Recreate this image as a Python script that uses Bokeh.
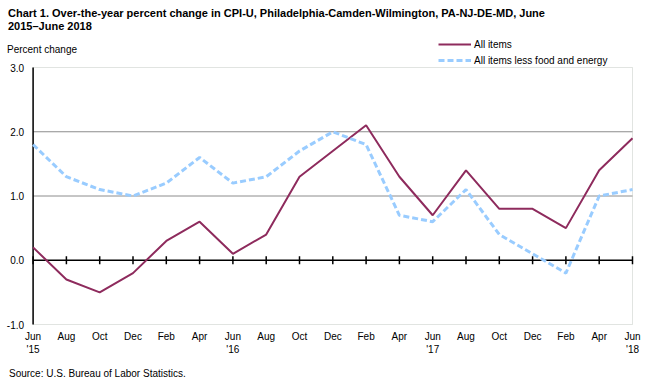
from bokeh.plotting import figure
from bokeh.models import (Range1d, Label, Legend, LegendItem, ColumnDataSource, BoxAnnotation)
from bokeh.core.properties import value
from bokeh.embed import file_html
from bokeh.resources import INLINE

# ---- data (bimonthly, over-the-year percent change) ----
periods = ["Jun 2015", "Aug 2015", "Oct 2015", "Dec 2015", "Feb 2016", "Apr 2016",
           "Jun 2016", "Aug 2016", "Oct 2016", "Dec 2016", "Feb 2017", "Apr 2017",
           "Jun 2017", "Aug 2017", "Oct 2017", "Dec 2017", "Feb 2018", "Apr 2018",
           "Jun 2018"]
month_index = [0, 2, 4, 6, 8, 10, 12, 14, 16, 18, 20, 22, 24, 26, 28, 30, 32, 34, 36]
all_items = [0.2, -0.3, -0.5, -0.2, 0.3, 0.6, 0.1, 0.4, 1.3, 1.7, 2.1, 1.3,
             0.7, 1.4, 0.8, 0.8, 0.5, 1.4, 1.9]
core = [1.8, 1.3, 1.1, 1.0, 1.2, 1.6, 1.2, 1.3, 1.7, 2.0, 1.8, 0.7,
        0.6, 1.1, 0.4, 0.1, -0.2, 1.0, 1.1]
tick_labels = ["Jun\n'15", "Aug", "Oct", "Dec", "Feb", "Apr",
               "Jun\n'16", "Aug", "Oct", "Dec", "Feb", "Apr",
               "Jun\n'17", "Aug", "Oct", "Dec", "Feb", "Apr", "Jun\n'18"]
y_ticks = [-1.0, 0.0, 1.0, 2.0, 3.0]
grid_values = [1.0, 2.0]
x_min, x_max = 0, 36
y_min, y_max = -1.0, 3.0

# ---- layout (canvas pixels) ----
W, H = 648, 380
PL, PR, PT, PB = 32.6, 632.0, 67.0, 324.0   # plot area edges
sx = (PR - PL) / (x_max - x_min)
sy = (PB - PT) / (y_max - y_min)
xr = Range1d(x_min - PL / sx, x_max + (W - PR) / sx)
yr = Range1d(y_min - (H - PB) / sy, y_max + PT / sy)

FONT = "Liberation Sans"
SMALL = "10px"
AXIS_GREY = "#9aa59a"

src = ColumnDataSource(dict(x=month_index, all_items=all_items, core=core, period=periods))

p = figure(width=W, height=H, output_backend="svg", toolbar_location=None,
           x_range=xr, y_range=yr, min_border=0, x_axis_type=None, y_axis_type=None)
p.title.visible = False
p.background_fill_color = "white"
p.border_fill_color = "white"
p.outline_line_color = None
p.xgrid.visible = False
p.ygrid.visible = False

# plot-area border
p.add_layout(BoxAnnotation(left=x_min, right=x_max, bottom=y_min, top=y_max, fill_color=None,
                           line_color=AXIS_GREY, line_width=1, level="underlay"))

# horizontal grid lines
n = len(grid_values)
p.segment(x0=[x_min] * n, x1=[x_max] * n, y0=grid_values, y1=grid_values,
          line_color="#8c8c8c", line_width=1)

# left axis line + tick labels
p.segment(x0=[x_min], x1=[x_min], y0=[y_min], y1=[y_max], line_color="black", line_width=1.5)
p.text(x=[x_min] * len(y_ticks), y=y_ticks, text=[f"{v:.1f}" for v in y_ticks],
       x_offset=-9, text_align="right", text_baseline="middle",
       text_font=value(FONT), text_font_size=SMALL, text_color="black")

# zero line with tick marks
p.segment(x0=[x_min], x1=[x_max], y0=[0], y1=[0], line_color="black", line_width=1.5)
m = len(month_index)
p.segment(x0=month_index, x1=month_index, y0=[-4 / sy] * m, y1=[4 / sy] * m,
          line_color="black", line_width=1.5)

# x tick labels (below the plot area)
p.text(x=month_index, y=[y_min] * m, text=tick_labels, y_offset=6,
       text_align="center", text_baseline="top", text_line_height=1.25,
       text_font=value(FONT), text_font_size=SMALL, text_color="black")

# series
r_all = p.line("x", "all_items", source=src, line_color="#8e2b5d", line_width=2)
r_core = p.line("x", "core", source=src, line_color="#99ccff", line_width=3,
                line_dash="6 3")

legend = Legend(items=[LegendItem(label="All items", renderers=[r_all]),
                       LegendItem(label="All items less food and energy", renderers=[r_core])],
                location=(438, H - PT), orientation="vertical")
legend.border_line_color = None
legend.background_fill_alpha = 0
legend.padding = 0
legend.margin = 0
legend.spacing = 2
legend.glyph_width = 33
legend.glyph_height = 14
legend.label_height = 14
legend.label_standoff = 3
legend.label_text_font = FONT
legend.label_text_font_size = SMALL
legend.label_text_color = "black"
p.add_layout(legend, "center")

# other texts (screen px from the canvas bottom-left)
def lab(text, x, y_top, size, bold=False):
    p.add_layout(Label(text=text, x=x, y=H - y_top, x_units="screen", y_units="screen",
                       text_font=FONT, text_font_size=size,
                       text_font_style="bold" if bold else "normal",
                       text_baseline="middle", text_align="left", text_color="black"))

lab("Chart 1. Over-the-year percent change in CPI-U, Philadelphia-Camden-Wilmington, PA-NJ-DE-MD,  June",
    7.5, 12, "11px", True)
lab("2015\u2013June 2018", 7.5, 25, "11px", True)
lab("Percent change", 6.5, 49, SMALL)
lab("Source: U.S. Bureau of Labor Statistics.", 8.5, 373, SMALL)

open("out.html", "w").write(file_html(p, INLINE))
